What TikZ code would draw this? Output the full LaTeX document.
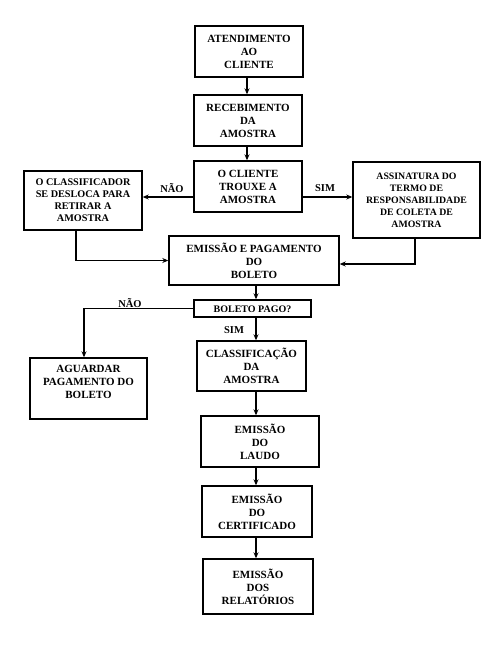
\documentclass[tikz,border=0pt]{standalone}
\usepackage{fontspec}
\setmainfont{Liberation Serif}
\usetikzlibrary{arrows.meta}
\tikzset{
  box/.style={draw=black, line width=1.4pt, align=center, inner sep=1pt,
    font=\bfseries\fontsize{11}{13}\selectfont},
  arr/.style={line width=1.2pt, -{Stealth[length=6pt,width=5pt]}},
  lbl/.style={font=\bfseries\fontsize{10.5}{12}\selectfont, inner sep=0pt}
}
\begin{document}
\begin{tikzpicture}[x=1pt,y=1pt]
\useasboundingbox[fill=white] (0,0) rectangle (500,-646);
% boxes
\node[box, minimum width=108, minimum height=51] (b1) at (249,-51.5) {ATENDIMENTO\\AO\\CLIENTE};
\node[box, minimum width=108, minimum height=51] (b2) at (248,-120.5) {RECEBIMENTO\\DA\\AMOSTRA};
\node[box, minimum width=108, minimum height=51] (b3) at (248,-186.5) {O CLIENTE\\TROUXE A\\AMOSTRA};
\node[box, minimum width=118, minimum height=59, font=\bfseries\fontsize{10.2}{12}\selectfont] (bl) at (83,-200.5) {O CLASSIFICADOR\\SE DESLOCA PARA\\RETIRAR A\\AMOSTRA};
\node[box, minimum width=127, minimum height=76, font=\bfseries\fontsize{9.8}{12}\selectfont] (br) at (416.5,-200) {ASSINATURA DO\\TERMO DE\\RESPONSABILIDADE\\DE COLETA DE\\AMOSTRA};
\node[box, minimum width=170, minimum height=49] (be) at (254,-260.5) {EMISSÃO E PAGAMENTO\\DO\\BOLETO};
\node[box, minimum width=117, minimum height=17, font=\bfseries\fontsize{10}{12}\selectfont, text depth=0pt] (bp) at (252.5,-308.5) {\raisebox{-2pt}{BOLETO PAGO?}};
\node[box, minimum width=117, minimum height=61] (ba) at (88.5,-388.5) {AGUARDAR\\PAGAMENTO DO\\BOLETO\\~};
\node[box, minimum width=109, minimum height=50] (bc) at (251.5,-366) {CLASSIFICAÇÃO\\DA\\AMOSTRA};
\node[box, minimum width=118, minimum height=51] (l1) at (260,-441.5) {EMISSÃO\\DO\\LAUDO};
\node[box, minimum width=110, minimum height=51] (l2) at (257,-511.5) {EMISSÃO\\DO\\CERTIFICADO};
\node[box, minimum width=110, minimum height=55] (l3) at (258,-586.5) {EMISSÃO\\DOS\\RELATÓRIOS};
% helper coordinates
\coordinate (xa) at (247,0);
\coordinate (xb) at (256,0);
\coordinate (yrow) at (0,-197);
\coordinate (xl) at (76,0);
\coordinate (xr) at (415,0);
\coordinate (yr) at (0,-264);
\coordinate (xg) at (84,0);
% connectors
\draw[arr] (b1.south -| xa) -- (b2.north -| xa);
\draw[arr] (b2.south -| xa) -- (b3.north -| xa);
\draw[arr] (b3.west |- yrow) -- (bl.east |- yrow);
\draw[arr] (b3.east |- yrow) -- (br.west |- yrow);
\draw[arr] (bl.south -| xl) |- (be.west);
\draw[arr] (br.south -| xr) |- (be.east |- yr);
\draw[arr] (be.south -| xb) -- (bp.north -| xb);
\draw[arr] (bp.west) -| (ba.north -| xg);
\draw[arr] (bp.south -| xb) -- (bc.north -| xb);
\draw[arr] (bc.south -| xb) -- (l1.north -| xb);
\draw[arr] (l1.south -| xb) -- (l2.north -| xb);
\draw[arr] (l2.south -| xb) -- (l3.north -| xb);
% labels
\node[lbl] (n1) at (172,-188) {NÃO};
\node[lbl] (s1) at (325,-188) {SIM};
\node[lbl] (n2) at (130,-303) {NÃO};
\node[lbl] (s2) at (234,-330) {SIM};
\end{tikzpicture}
\end{document}
